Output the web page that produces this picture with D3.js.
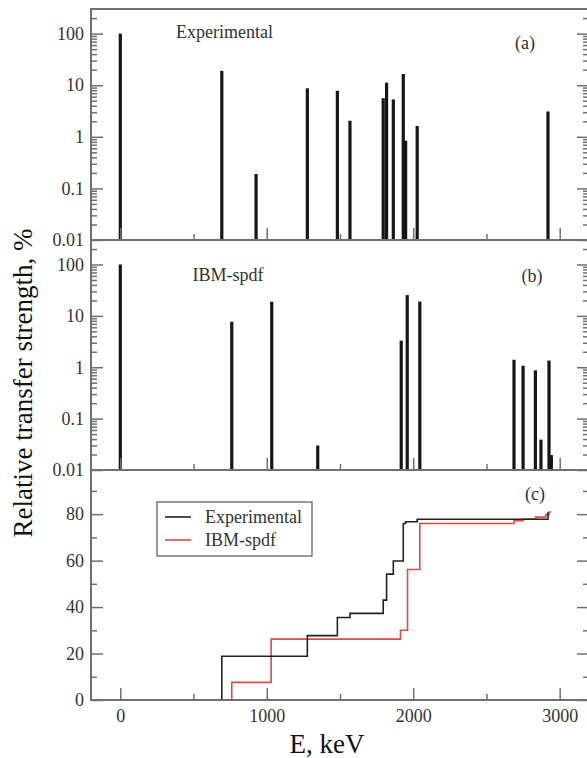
<!DOCTYPE html>
<html>
<head>
<meta charset="utf-8">
<script src="https://cdn.jsdelivr.net/npm/d3@7"></script>
<style>
  body { margin: 0; background: #fff; }
  svg text { font-family: "Liberation Serif", "Times New Roman", serif; fill: #333; }
  .frame { fill: none; stroke: #707070; stroke-width: 2; }
  .tick line { stroke: #707070; stroke-width: 1.5; }
</style>
</head>
<body>
<div id="chart"></div>
<script>
// Experimental transfer strengths (panel a)
var expEnergy = [0, 693, 927, 1277, 1482, 1568, 1795, 1818, 1864, 1932, 1948, 2027, 2920];
var expStrength = [100, 19, 0.19, 8.7, 7.8, 2.05, 5.6, 11.2, 5.3, 16.5, 0.84, 1.62, 3.1];

// IBM-spdf transfer strengths (panel b)
var ibmEnergy = [0, 761, 1034, 1348, 1918, 1959, 2045, 2688, 2750, 2834, 2872, 2927, 2943];
var ibmStrength = [100, 7.7, 18.8, 0.03, 3.3, 25.4, 19, 1.4, 1.07, 0.87, 0.039, 1.35, 0.0195];

// Running sums (panel c)
var expCumEnergy = [0, 693, 1277, 1482, 1568, 1795, 1818, 1864, 1932, 1948, 2027, 2920];
var expCumValue = [0, 18.8, 27.7, 35.5, 37.3, 43, 54.2, 59.8, 76, 76.7, 77.8, 80.8];
var ibmCumEnergy = [0, 761, 1030, 1913, 1961, 2045, 2688, 2750, 2836, 2905, 2927, 2943];
var ibmCumValue = [0, 7.6, 26.2, 30, 56.2, 76, 77.2, 77.9, 78.7, 79.8, 80.9, 80.9];

var xMajor = [0, 1000, 2000, 3000];
var xMinor = [500, 1500, 2500];
var logMajor = [0.01, 0.1, 1, 10, 100];
var linMajor = [0, 20, 40, 60, 80];
var linMinor = [10, 30, 50, 70, 90];

var width = 587, height = 758;
var left = 91, right = 589;

var svg = d3.select("#chart")
  .append("svg")
  .attr("width", width)
  .attr("height", height);

var x = d3.scaleLinear().domain([-200, 3200]).range([left, right]);

var yA = d3.scaleLog().domain([0.01, 300]).range([240, 9]);
var yB = d3.scaleLog().domain([0.01, 300]).range([470, 240]);
var yC = d3.scaleLinear().domain([0, 99]).range([700, 470]);

// minor ticks of a log axis: 2..9 times each decade
var logMinor = [];
[0.01, 0.1, 1, 10, 100].forEach(function(d){
  for (var k = 2; k <= 9; k++) {
    var v = d * k;
    if (v < 300) logMinor.push(+v.toPrecision(3));
  }
});

function drawAxes(y, major, minor, showX, fmt){
  var g = svg.append("g");

  g.append("g")
    .attr("transform", "translate(" + left + ",0)")
    .call(d3.axisLeft(y).tickValues(major).tickSize(-12).tickPadding(7).tickFormat(fmt))
    .call(function(a){ a.select(".domain").remove(); })
    .selectAll("text").style("font-size", "18px");

  g.append("g")
    .attr("transform", "translate(" + left + ",0)")
    .call(d3.axisLeft(y).tickValues(minor).tickSize(-6).tickFormat(""))
    .select(".domain").remove();

  g.append("g")
    .attr("transform", "translate(" + right + ",0)")
    .call(d3.axisRight(y).tickValues(major).tickSize(-12).tickFormat(""))
    .select(".domain").remove();

  g.append("g")
    .attr("transform", "translate(" + right + ",0)")
    .call(d3.axisRight(y).tickValues(minor).tickSize(-6).tickFormat(""))
    .select(".domain").remove();

  var y0 = y.range()[0];
  g.append("g")
    .attr("transform", "translate(0," + y0 + ")")
    .call(d3.axisBottom(x).tickValues(xMajor).tickSize(-12).tickPadding(9)
      .tickFormat(showX ? d3.format("d") : ""))
    .call(function(a){ a.select(".domain").remove(); })
    .selectAll("text").style("font-size", "18px");

  g.append("g")
    .attr("transform", "translate(0," + y0 + ")")
    .call(d3.axisBottom(x).tickValues(xMinor).tickSize(-6).tickFormat(""))
    .select(".domain").remove();

  g.selectAll("text").attr("fill", "#333").attr("font-family", "Liberation Serif, serif");

  g.append("rect")
    .attr("class", "frame")
    .attr("x", left)
    .attr("y", y.range()[1])
    .attr("width", right - left)
    .attr("height", y0 - y.range()[1]);
}

var logFmt = function(d){ return d >= 1 ? d3.format("d")(d) : String(d); };

function drawBars(y, energy, strength){
  svg.append("g")
    .selectAll("rect")
    .data(energy)
    .enter()
    .append("rect")
    .attr("x", function(d){ return x(d) - 1.6; })
    .attr("width", 3.2)
    .attr("y", function(d, i){ return y(strength[i]); })
    .attr("height", function(d, i){ return y(0.01) - y(strength[i]); })
    .attr("fill", "#161616");
}

drawBars(yA, expEnergy, expStrength);
drawBars(yB, ibmEnergy, ibmStrength);

// Step curves
var step = d3.line()
  .x(function(d){ return x(d[0]); })
  .y(function(d){ return yC(d[1]); })
  .curve(d3.curveStepAfter);

svg.append("path")
  .datum(ibmCumEnergy.map(function(e, i){ return [e, ibmCumValue[i]]; }))
  .attr("d", step)
  .attr("fill", "none")
  .attr("stroke", "#e8473d")
  .attr("stroke-width", 1.6);

svg.append("path")
  .datum(expCumEnergy.map(function(e, i){ return [e, expCumValue[i]]; }))
  .attr("d", step)
  .attr("fill", "none")
  .attr("stroke", "#222")
  .attr("stroke-width", 1.6);

drawAxes(yA, logMajor, logMinor, false, logFmt);
drawAxes(yB, logMajor, logMinor, false, logFmt);
drawAxes(yC, linMajor, linMinor, true, d3.format("d"));

// Panel labels
svg.append("text").attr("x", 176).attr("y", 38).style("font-size", "18px").text("Experimental");
svg.append("text").attr("x", 525).attr("y", 49).attr("text-anchor", "middle").style("font-size", "18px").text("(a)");
svg.append("text").attr("x", 228).attr("y", 281).attr("text-anchor", "middle").style("font-size", "18px").text("IBM-spdf");
svg.append("text").attr("x", 532).attr("y", 282).attr("text-anchor", "middle").style("font-size", "18px").text("(b)");
svg.append("text").attr("x", 535).attr("y", 500).attr("text-anchor", "middle").style("font-size", "18px").text("(c)");

// Legend
var legend = svg.append("g").attr("transform", "translate(157,502)");
legend.append("rect")
  .attr("width", 155).attr("height", 54)
  .attr("fill", "#fff").attr("stroke", "#555").attr("stroke-width", 1.2);
var items = [["Experimental", "#222"], ["IBM-spdf", "#e8473d"]];
items.forEach(function(it, i){
  var yy = 15 + i * 23;
  legend.append("line")
    .attr("x1", 8).attr("x2", 34).attr("y1", yy).attr("y2", yy)
    .attr("stroke", it[1]).attr("stroke-width", 1.6);
  legend.append("text")
    .attr("x", 48).attr("y", yy + 6)
    .style("font-size", "18px")
    .text(it[0]);
});

// Axis titles
svg.append("text")
  .attr("x", 327).attr("y", 753)
  .attr("text-anchor", "middle")
  .style("font-size", "27px")
  .style("fill", "#111")
  .text("E, keV");

svg.append("text")
  .attr("transform", "translate(32,383) rotate(-90)")
  .attr("text-anchor", "middle")
  .style("font-size", "27px")
  .style("fill", "#111")
  .text("Relative transfer strength, %");
</script>
</body>
</html>
